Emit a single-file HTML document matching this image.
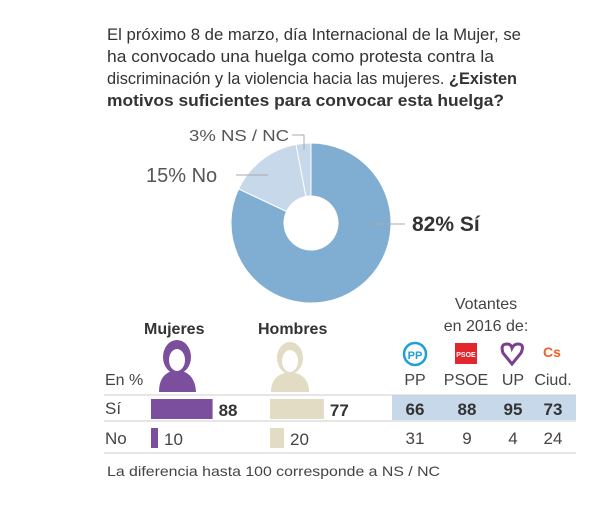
<!DOCTYPE html>
<html><head><meta charset="utf-8"><style>
body{margin:0;background:#fff;}
svg{display:block;font-family:"Liberation Sans",sans-serif;}
</style></head><body>
<svg id="c" width="608" height="507" viewBox="0 0 608 507">
<g font-size="17" fill="#333">
<text x="107" y="40" textLength="414" lengthAdjust="spacingAndGlyphs">El próximo 8 de marzo, día Internacional de la Mujer, se</text>
<text x="107" y="62" textLength="387" lengthAdjust="spacingAndGlyphs">ha convocado una huelga como protesta contra la</text>
<text x="107" y="84" textLength="410" lengthAdjust="spacingAndGlyphs">discriminación y la violencia hacia las mujeres. <tspan font-weight="bold">¿Existen</tspan></text>
<text x="107" y="106" font-weight="bold" textLength="397" lengthAdjust="spacingAndGlyphs">motivos suficientes para convocar esta huelga?</text>
</g>
<g id="pie"></g>
<g>
<text x="189" y="141" font-size="16" fill="#555" textLength="100" lengthAdjust="spacingAndGlyphs">3% NS / NC</text>
<polyline points="292,135 304,135 304,150" fill="none" stroke="#aaa" stroke-width="1"/>
<text x="146" y="182" font-size="20" fill="#555">15% No</text>
<line x1="236" y1="175" x2="268" y2="175" stroke="#aaa"/>
<text x="412" y="231" font-size="21" font-weight="bold" fill="#333">82% Sí</text>
<line x1="372" y1="224" x2="405" y2="224" stroke="#aaa"/>
</g>
<g fill="#333">
<rect x="392" y="395" width="184" height="25" fill="#c7d8ea"/>
<line x1="104" y1="395" x2="576" y2="395" stroke="#ccc"/>
<line x1="104" y1="421" x2="576" y2="421" stroke="#ccc"/>
<line x1="104" y1="453" x2="576" y2="453" stroke="#ccc"/>
<text x="144" y="334" font-size="16" font-weight="bold">Mujeres</text>
<text x="258" y="334" font-size="16" font-weight="bold">Hombres</text>
<text x="486" y="309" font-size="16" text-anchor="middle" fill="#444">Votantes</text>
<text x="486" y="331" font-size="16" text-anchor="middle" fill="#444">en 2016 de:</text>
<text x="105" y="385" font-size="16" fill="#444">En %</text>
<text x="105" y="414" font-size="17" fill="#444">Sí</text>
<text x="105" y="444" font-size="17" fill="#444">No</text>
<g fill="#7b4f9d">
<ellipse cx="177" cy="357" rx="14" ry="17"/>
<path d="M159,392 Q159,372 177,370 Q195,372 196,392 Z"/>
<ellipse cx="177" cy="360" rx="8" ry="11" fill="#fff"/>
</g>
<g fill="#e2dcc4">
<ellipse cx="290" cy="358" rx="13" ry="16"/>
<path d="M271,392 Q271,374 290,372 Q309,374 309,392 Z"/>
<ellipse cx="290" cy="361" rx="8" ry="11" fill="#fff"/>
</g>
<g>
<circle cx="415" cy="354" r="11" fill="none" stroke="#1e9fd9" stroke-width="2.5"/>
<text x="415" y="359" font-size="11" font-weight="bold" fill="#1e9fd9" text-anchor="middle">PP</text>
<rect x="455" y="343" width="22" height="21" fill="#e3262d"/>
<text x="466" y="357" font-size="7" font-weight="bold" fill="#fff" text-anchor="middle">PSOE</text>
<path d="M512,364 L503,353 Q500,344 507,344 Q511,344 512,348 Q514,344 518,344 Q525,344 521,353 Z" fill="none" stroke="#7b3f8f" stroke-width="3"/>
<text x="552" y="357" font-size="14" font-weight="bold" fill="#ef6228" text-anchor="middle">Cs</text>
</g>
<text x="415" y="385" font-size="16" fill="#444" text-anchor="middle">PP</text>
<text x="466" y="385" font-size="16" fill="#444" text-anchor="middle">PSOE</text>
<text x="513" y="385" font-size="16" fill="#444" text-anchor="middle">UP</text>
<text x="553" y="385" font-size="16" fill="#444" text-anchor="middle">Ciud.</text>
<g id="bars"></g>
<text x="107" y="476" font-size="14" fill="#444" textLength="333" lengthAdjust="spacingAndGlyphs">La diferencia hasta 100 corresponde a NS / NC</text>
</g>
</svg>
<script>
const pieLabels=["Sí","No","NS/NC"];
const pieValues=[82,15,3];
const pieColors=["#80aed3","#c7d8ea","#c7d8ea"];
const genders=["Mujeres","Hombres"];
const genderSi=[88,77];
const genderNo=[10,20];
const parties=["PP","PSOE","UP","Ciud."];
const partySi=[66,88,95,73];
const partyNo=[31,9,4,24];
const NS="http://www.w3.org/2000/svg";
function mk(t,a,p){const e=document.createElementNS(NS,t);for(const k in a)e.setAttribute(k,a[k]);p.appendChild(e);return e;}
const pie=document.getElementById('pie');
const cx=311,cy=223,R=80,r=27;
const tot=pieValues.reduce((a,b)=>a+b,0);
let ang=0;
function pt(a,rad){return [cx+rad*Math.sin(a),cy-rad*Math.cos(a)];}
pieValues.forEach((v,i)=>{
  const a0=ang/tot*2*Math.PI; ang+=v; const a1=ang/tot*2*Math.PI;
  const lg=(a1-a0)>Math.PI?1:0;
  const [x0,y0]=pt(a0,R),[x1,y1]=pt(a1,R),[x2,y2]=pt(a1,r),[x3,y3]=pt(a0,r);
  const p=mk('path',{d:`M${x0},${y0}A${R},${R} 0 ${lg} 1 ${x1},${y1}L${x2},${y2}A${r},${r} 0 ${lg} 0 ${x3},${y3}Z`,fill:pieColors[i],stroke:'#fff','stroke-width':1},pie);
  
  
});
const bars=document.getElementById('bars');
const sc=0.7;
const gx=[151,270];
genders.forEach((g,i)=>{
  const b1=mk('rect',{x:gx[i],y:399,width:genderSi[i]*sc,height:20,fill:i?'#e2dcc4':'#7b4f9d'},bars);
  
  
  const t1=mk('text',{x:gx[i]+genderSi[i]*sc+6,y:416,'font-size':17,'font-weight':'bold',fill:'#333'},bars);t1.textContent=genderSi[i];
  
  
  const b2=mk('rect',{x:gx[i],y:428,width:genderNo[i]*sc,height:20,fill:i?'#e2dcc4':'#7b4f9d'},bars);
  
  
  const t2=mk('text',{x:gx[i]+genderNo[i]*sc+6,y:445,'font-size':17,fill:'#444'},bars);t2.textContent=genderNo[i];
  
  
});
const px=[415,467,513,553];
parties.forEach((p,i)=>{
  const t1=mk('text',{x:px[i],y:415,'font-size':17,'font-weight':'bold',fill:'#333','text-anchor':'middle'},bars);t1.textContent=partySi[i];
  
  
  const t2=mk('text',{x:px[i],y:444,'font-size':17,fill:'#444','text-anchor':'middle'},bars);t2.textContent=partyNo[i];
  
  
});
</script>
</body></html>
